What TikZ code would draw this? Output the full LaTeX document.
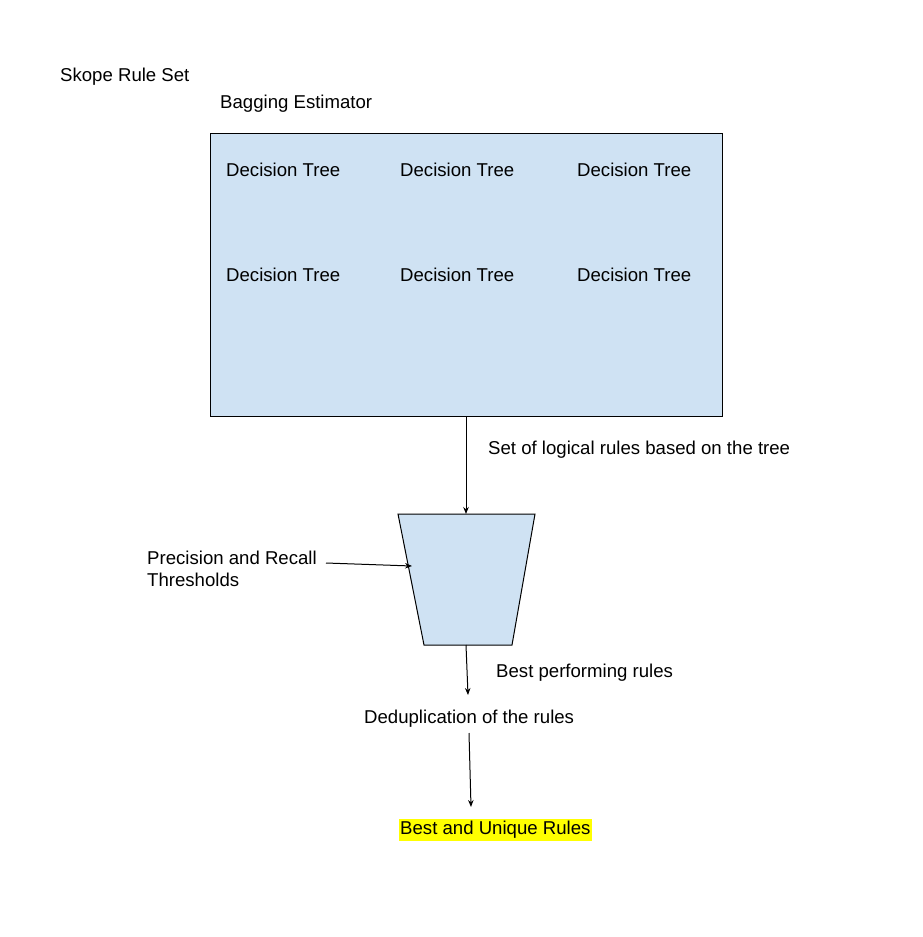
\documentclass[tikz,border=0pt]{standalone}
\usepackage{fontspec}
\setmainfont{Liberation Sans}
\usetikzlibrary{arrows.meta}
\definecolor{boxblue}{HTML}{CFE2F3}
\definecolor{hl}{HTML}{FFFF00}
\begin{document}
\begin{tikzpicture}[x=1pt,y=-1pt,
  every node/.style={font=\fontsize{18.6}{22.5}\selectfont},
  lbl/.style={anchor=west,inner sep=0pt,text height=13pt,text depth=4pt},
  conn/.style={line width=1pt,-{Stealth[length=7pt,width=5.5pt]}},
  shapebox/.style={draw=black,line width=1pt,fill=boxblue}]
\useasboundingbox (0,0) rectangle (923,937);
\fill[white] (0,0) rectangle (923,937);

\node[lbl] (title) at (60,77) {Skope Rule Set};
\node[lbl] (bagtitle) at (220,104) {Bagging Estimator};

\node[shapebox,anchor=north west,minimum width=512pt,minimum height=283pt,inner sep=0pt] (bag) at (210,133) {};

\node[lbl] (dt1) at (226,172) {Decision Tree};
\node[lbl] (dt2) at (400,172) {Decision Tree};
\node[lbl] (dt3) at (577,172) {Decision Tree};
\node[lbl] (dt4) at (226,277) {Decision Tree};
\node[lbl] (dt5) at (400,277) {Decision Tree};
\node[lbl] (dt6) at (577,277) {Decision Tree};

% trapezoid filter
\coordinate (tl) at (398,514);
\coordinate (tr) at (535,514);
\coordinate (br) at (512,645);
\coordinate (bl) at (424,645);
\draw[shapebox] (tl) -- (tr) -- (br) -- (bl) -- cycle;
\coordinate (ftop) at (466,514);
\coordinate (fbot) at (466,645);
\coordinate (fleft) at (412,566);

\node[lbl] (setlbl) at (488,450) {Set of logical rules based on the tree};
\node[lbl,align=left,text height=,text depth=] (prec) at (147,569) {Precision and Recall\\[0pt]Thresholds};
\coordinate (precend) at (326,563);
\node[lbl] (bestperf) at (496,673) {Best performing rules};
\node[lbl] (dedup) at (364,719) {Deduplication of the rules};
\node[lbl,fill=hl,inner xsep=1.5pt,text height=14pt,text depth=5pt,inner ysep=1.5pt] (final) at (398.5,830) {Best and Unique Rules};

\coordinate (bagbot) at (466,416);
\coordinate (dedupin) at (468,695);
\coordinate (dedupout) at (469,733);
\coordinate (finalin) at (471,807);

\draw[conn] (bagbot) -- (ftop);
\draw[conn] (precend) -- (fleft);
\draw[conn] (fbot) -- (dedupin);
\draw[conn] (dedupout) -- (finalin);
\end{tikzpicture}
\end{document}
